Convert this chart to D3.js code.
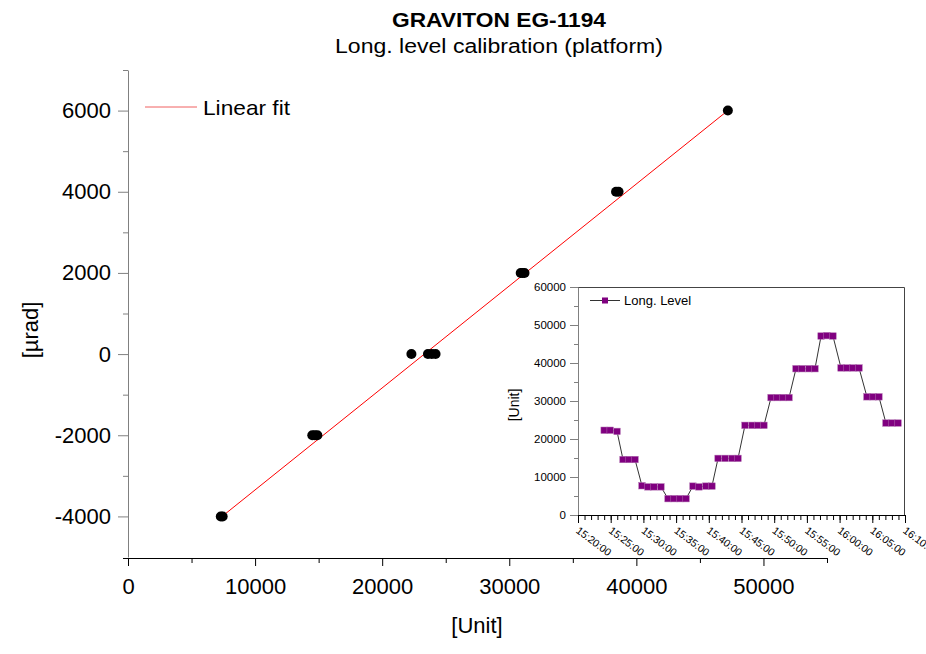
<!DOCTYPE html>
<html>
<head>
<meta charset="utf-8">
<script src="https://cdn.jsdelivr.net/npm/d3@7"></script>
<style>
  body { margin: 0; background: #fff; }
  text { font-family: "Liberation Sans", Arial, sans-serif; fill: #000; }
</style>
</head>
<body>
<script>
// main calibration points: level reading [Unit] vs applied tilt [µrad]
const mainX = [7300, 7450, 14500, 14700, 14900, 22300, 23600, 23900, 24200, 30900, 31050, 31200, 38400, 38600, 47200];
const mainY = [-4000, -4000, -2000, -2000, -2000, 0, 0, 0, 0, 2000, 2000, 2000, 4000, 4000, 6000];

// linear fit
const fitSlope = 0.2513;
const fitIntercept = -5860;
const fitRange = [7400, 47200];

const mainXTicks = [0, 10000, 20000, 30000, 40000, 50000];
const mainYTicks = [-4000, -2000, 0, 2000, 4000, 6000];

// inset: Long. Level time series
const levelTimes = [
  "15:24:00", "15:24:55", "15:25:58",
  "15:26:53", "15:27:48", "15:28:43",
  "15:29:47", "15:30:42", "15:31:37", "15:32:41",
  "15:33:46", "15:34:41", "15:35:36", "15:36:31",
  "15:37:35", "15:38:30", "15:39:34", "15:40:29",
  "15:41:25", "15:42:29", "15:43:33", "15:44:28",
  "15:45:32", "15:46:37", "15:47:31", "15:48:26",
  "15:49:31", "15:50:26", "15:51:21", "15:52:16",
  "15:53:20", "15:54:15", "15:55:19", "15:56:14",
  "15:57:10", "15:58:04", "15:58:59",
  "16:00:13", "16:01:08", "16:02:03", "16:02:58",
  "16:04:11", "16:05:07", "16:06:01",
  "16:07:05", "16:08:01", "16:08:56"
];
const levelValues = [
  22300, 22300, 22000,
  14600, 14600, 14600,
  7700, 7400, 7400, 7400,
  4300, 4300, 4300, 4300,
  7600, 7400, 7600, 7600,
  14900, 14900, 14900, 14900,
  23600, 23600, 23600, 23600,
  30900, 30900, 30900, 30900,
  38500, 38500, 38500, 38500,
  47100, 47200, 47100,
  38700, 38700, 38700, 38700,
  31100, 31100, 31100,
  24200, 24200, 24200
];
const insetYTicks = [0, 10000, 20000, 30000, 40000, 50000, 60000];
const insetTimeTicks = ["15:20:00", "15:25:00", "15:30:00", "15:35:00", "15:40:00", "15:45:00",
  "15:50:00", "15:55:00", "16:00:00", "16:05:00", "16:10:00"];

const width = 926;
const height = 654;

// plain hyphen for negatives, like the original
const fmt = (d) => String(d);

let svg = d3.select("body").append("svg")
  .attr("width", width)
  .attr("height", height);

// titles
svg.append("text")
  .attr("x", 499).attr("y", 27)
  .attr("text-anchor", "middle")
  .attr("font-size", 20).attr("font-weight", "bold")
  .attr("textLength", 214).attr("lengthAdjust", "spacingAndGlyphs")
  .text("GRAVITON EG-1194");
svg.append("text")
  .attr("x", 499).attr("y", 53)
  .attr("text-anchor", "middle")
  .attr("font-size", 20)
  .attr("textLength", 328).attr("lengthAdjust", "spacingAndGlyphs")
  .text("Long. level calibration (platform)");

// ---------- main plot ----------
let x = d3.scaleLinear().domain([0, 55000]).range([128, 827]);
let y = d3.scaleLinear().domain([-5000, 7000]).range([557, 70]);

// y axis
let yAxisG = svg.append("g").attr("transform", "translate(128,0)");
yAxisG.call(d3.axisLeft(y).tickValues(mainYTicks).tickSize(10).tickSizeOuter(0).tickPadding(7).tickFormat(fmt));
yAxisG.select(".domain").attr("stroke", "#808080");
yAxisG.selectAll(".tick line").attr("stroke", "#808080");
yAxisG.selectAll(".tick text").attr("font-size", 22).attr("font-family", null).attr("fill", "#000");
let yMinor = svg.append("g").attr("transform", "translate(128,0)")
  .call(d3.axisLeft(y).tickValues([-3000, -1000, 1000, 3000, 5000, 7000]).tickSize(5).tickFormat(""));
yMinor.select(".domain").remove();
yMinor.selectAll(".tick line").attr("stroke", "#808080");

// x axis
let xAxisG = svg.append("g").attr("transform", "translate(0,558)");
xAxisG.call(d3.axisBottom(x).tickValues(mainXTicks).tickSize(8).tickSizeOuter(0).tickPadding(12).tickFormat(fmt));
xAxisG.select(".domain").remove();
xAxisG.selectAll(".tick text").attr("font-size", 22).attr("font-family", null).attr("fill", "#000");
let xMinor = svg.append("g").attr("transform", "translate(0,558)")
  .call(d3.axisBottom(x).tickValues([5000, 15000, 25000, 35000, 45000, 55000]).tickSize(5).tickFormat(""));
xMinor.select(".domain").remove();
svg.append("line")
  .attr("x1", 123).attr("x2", x(55000))
  .attr("y1", 558.5).attr("y2", 558.5)
  .attr("stroke", "#000");

// axis labels
svg.append("text")
  .attr("x", 477).attr("y", 633)
  .attr("text-anchor", "middle")
  .attr("font-size", 22)
  .text("[Unit]");
svg.append("text")
  .attr("transform", "translate(38,330) rotate(-90)")
  .attr("text-anchor", "middle")
  .attr("font-size", 22)
  .text("[µrad]");

// fit line
svg.append("line")
  .attr("x1", x(fitRange[0])).attr("y1", y(fitSlope * fitRange[0] + fitIntercept))
  .attr("x2", x(fitRange[1])).attr("y2", y(fitSlope * fitRange[1] + fitIntercept))
  .attr("stroke", "#ff0000").attr("stroke-width", 1);

// points
svg.append("g").selectAll("circle")
  .data(mainX.map((d, i) => [d, mainY[i]]))
  .enter()
  .append("circle")
  .attr("cx", d => x(d[0]))
  .attr("cy", d => y(d[1]))
  .attr("r", 5)
  .attr("fill", "#000");

// legend
svg.append("line")
  .attr("x1", 145).attr("x2", 197).attr("y1", 107).attr("y2", 107)
  .attr("stroke", "#f06060").attr("stroke-width", 1);
svg.append("text")
  .attr("x", 203).attr("y", 115)
  .attr("font-size", 21)
  .attr("textLength", 87).attr("lengthAdjust", "spacingAndGlyphs")
  .text("Linear fit");

// ---------- inset ----------
const parseTime = d3.timeParse("%H:%M:%S");
let ix = d3.scaleTime().domain([parseTime("15:20:00"), parseTime("16:10:00")]).range([578, 905]);
let iy = d3.scaleLinear().domain([0, 60000]).range([515, 287]);

svg.append("rect")
  .attr("x", 578).attr("y", 287)
  .attr("width", 905 - 578).attr("height", 515 - 287)
  .attr("fill", "#fff");
// top and right frame
svg.append("path")
  .attr("d", "M578,287.5H904.5V515")
  .attr("fill", "none").attr("stroke", "#444");

let iyAxis = svg.append("g").attr("transform", "translate(578,0)");
iyAxis.call(d3.axisLeft(iy).tickValues(insetYTicks).tickSize(8).tickSizeOuter(0).tickPadding(4).tickFormat(fmt));
iyAxis.select(".domain").attr("stroke", "#808080");
iyAxis.selectAll(".tick line").attr("stroke", "#808080");
iyAxis.selectAll(".tick text").attr("font-size", 11.5).attr("font-family", null).attr("fill", "#000");
let iyMinor = svg.append("g").attr("transform", "translate(578,0)")
  .call(d3.axisLeft(iy).tickValues([5000, 15000, 25000, 35000, 45000, 55000]).tickSize(4).tickFormat(""));
iyMinor.select(".domain").remove();
iyMinor.selectAll(".tick line").attr("stroke", "#808080");

let ixAxis = svg.append("g").attr("transform", "translate(0,515)");
ixAxis.call(d3.axisBottom(ix).tickValues(insetTimeTicks.map(parseTime)).tickSize(8).tickSizeOuter(0).tickFormat(d3.timeFormat("%H:%M:%S")));
ixAxis.select(".domain").attr("stroke", "#000");
ixAxis.selectAll(".tick text")
  .attr("font-size", 10.5).attr("font-family", null).attr("fill", "#000")
  .attr("text-anchor", "start")
  .attr("y", 0).attr("x", 0).attr("dy", "0.35em")
  .attr("transform", "translate(-1,14) rotate(37)");
let ixMinor = svg.append("g").attr("transform", "translate(0,515)")
  .call(d3.axisBottom(ix).ticks(d3.timeMinute.every(1)).tickSize(5).tickFormat(""));
ixMinor.select(".domain").remove();

svg.append("text")
  .attr("transform", "translate(519,405) rotate(-90)")
  .attr("text-anchor", "middle")
  .attr("font-size", 14)
  .text("[Unit]");

let levelData = levelTimes.map((t, i) => [parseTime(t), levelValues[i]]);
svg.append("path")
  .datum(levelData)
  .attr("d", d3.line().x(d => ix(d[0])).y(d => iy(d[1])))
  .attr("fill", "none")
  .attr("stroke", "#333")
  .attr("stroke-width", 1);
svg.append("g").selectAll("rect")
  .data(levelData)
  .enter()
  .append("rect")
  .attr("x", d => ix(d[0]) - 3.25)
  .attr("y", d => iy(d[1]) - 3.25)
  .attr("width", 6.5).attr("height", 6.5)
  .attr("fill", "#800080")
  .attr("stroke", "#b070b0").attr("stroke-width", 0.5);

// inset legend
svg.append("line")
  .attr("x1", 590).attr("x2", 620).attr("y1", 300.5).attr("y2", 300.5)
  .attr("stroke", "#333");
svg.append("rect")
  .attr("x", 602).attr("y", 297.5).attr("width", 6).attr("height", 6)
  .attr("fill", "#800080");
svg.append("text")
  .attr("x", 624).attr("y", 305)
  .attr("font-size", 13)
  .text("Long. Level");
</script>
</body>
</html>
